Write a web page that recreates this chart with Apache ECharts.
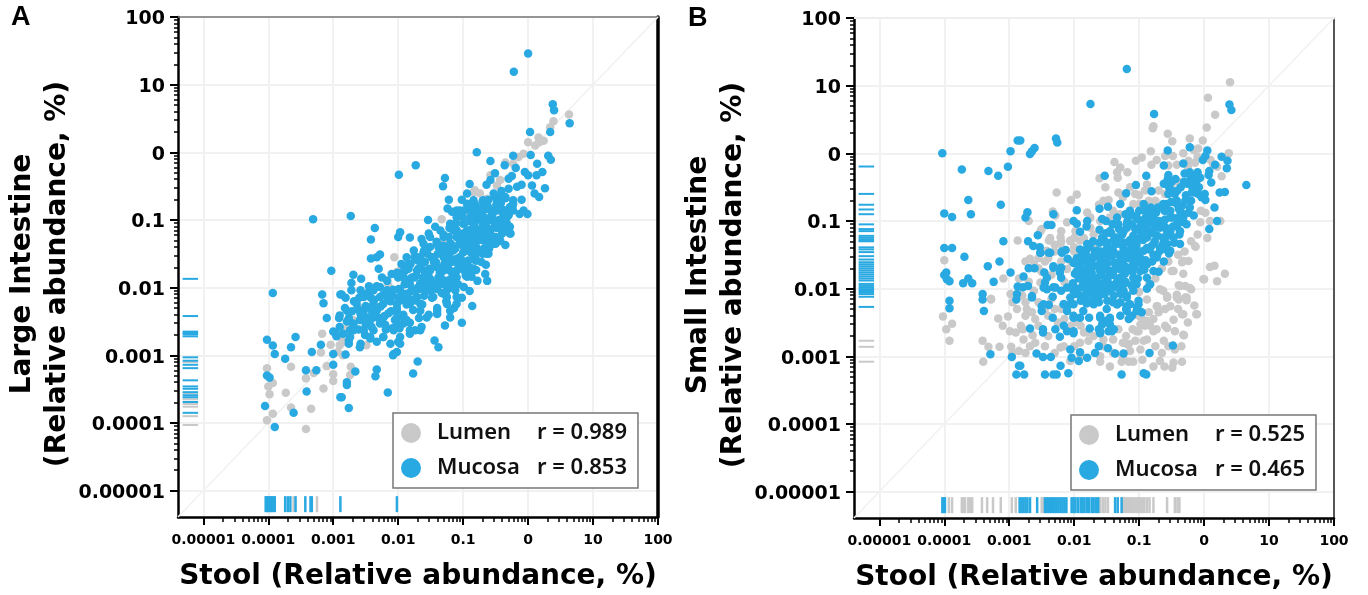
<!DOCTYPE html>
<html><head><meta charset="utf-8">
<script src="https://cdn.jsdelivr.net/npm/echarts@6/dist/echarts.min.js"></script>
<style>html,body{margin:0;padding:0;background:#fff}#c{width:1368px;height:595px}</style></head>
<body><div id="c"></div>
<script>
// All point arrays hold [log10(stool %), log10(site %)].
const tickValues=[0.00001,0.0001,0.001,0.01,0.1,1,10,100];
const tickLabels=['0.00001','0.0001','0.001','0.01','0.1','0','10','100'];
const axisMin=Math.pow(10,-5.39), axisMax=100;
const rugPos=-5.2;

const lumenA=[[.63,.56],[.39,.46],[.34,.37],[0,.15],[.16,.22],[.24,.17],[.17,.15],[.11,.1],[-.07,-.02],[-.15,-.07],[-.23,-.17],[-.35,-.15],[-.58,-.34],[-.43,-.41],[-.48,-.49],[-.82,-.56],[-.74,-.61],[-.64,-.69],[-.84,-.59],[-.92,-.91],[-.97,-1],[-1.02,-.98],[-1.33,-.99],[-1.3,-1.3],[-1.35,-1.43],[-2.06,-1.55],[-1.94,-1.7],[-2.02,-1.77],[-2.17,-1.89],[-2.15,-1.97],[-2.38,-2.19],[-2.69,-2.48],[-2.79,-2.61],[-2.89,-2.73],[-2.58,-2.31],[-2.73,-3.17],[-2.74,-3.29],[-2.49,-2.85],
[-4.02,-3.19],[-3.65,-3.17],[-3.93,-3.41],[-4,-3.46],[-3.98,-3.575],[-3.73,-3.555],[-3.93,-3.865],[-3.65,-3.77],[-4.02,-3.96],[-3.34,-3.79],[-3.42,-4.09],[-3.15,-3.49],[-3.42,-3.34],[-3.3,-3.26],[-3.1,-3.16],[-3,-3.28],[-3,-3.38],[-3.19,-2.96],[-3.04,-2.845],[-3.17,-2.68],[-2.9,-2.85],[-2.85,-3.0],[-2.93,-2.95],[-2.82,-2.8]];
const mucosaA=[[0,1.46],[-.22,1.19],[.38,.71],[.4,.62],[.64,.43],[.03,.3],[.34,.3],[-.79,0],[-.58,-.13],[-.23,-.05],[.04,-.04],[.31,-.05],[.35,-.11],[.14,-.17],[-.36,-.19],[-.19,-.23],[-1.73,-.19],[-1.99,-.33],[-1.28,-.38],[-1.31,-.5],[-.9,-.47],[-2.73,-.94],[-3.31,-.99],[-3.03,-1.75],[-3.93,-2.08],[-3.17,-2.1],[-2.89,-2.1],
[-2.36,-1.12],[-2.42,-1.29],[-1.97,-1.18],[-2,-1.25],[-1.82,-1.26],[-2.28,-1.51],[-2.33,-1.55],[-2.42,-1.57],[-2.3,-1.72],[-2.69,-1.81],[-2.57,-1.87],[-2.72,-1.93],[-2.72,-2.04],[-2.87,-2.1],[-1.54,-1],[-1.43,-1.1],[-1.53,-1.2],[-1.64,-1.28],[-1.22,-.7],[-1.24,-.83],[-1.17,-.88],[-1.05,-.86],[-1.02,-.7],[-.94,-.61],[-.64,-.48],[-.58,-.41],[-.51,-.31],[-.3,-.39],[-.25,-.35],[-.1,-.48],[-.17,-.51],[-.3,-.54],[-.41,-.57],[-.35,-.66],[-.48,-.71],[-.1,-.7],[-.23,-.71],[-.24,-.8],[-.07,-.86],[-.01,-.91],[-.13,-.91],[-.05,-.29],[0,-.34],[.13,-.34],[.22,-.29],[.06,-.49],[.26,-.53],[.1,-.61],[.17,-.66],[-.28,-.81],[-.3,-.93],[-.28,-1.1],[-.27,-1.2],[-.35,-1.37],[-.44,-1.31],[-.61,-1.5],[-.65,-1.66],[-.63,-1.9],[-.87,-1.84],[-.8,-1.74],[-.82,-1.55],
[-.86,-2.27],[-1.02,-2.52],[-1.28,-2.56],[-1.44,-2.78],[-1.38,-2.88],[-1.64,-2.58],[-1.7,-3.09],[-1.77,-3.27],[-2.33,-3.21],[-2.35,-3.31],[-2.16,-3.55],[-2.66,-3.24],[-2.79,-3.4],[-2.79,-3.44],[-2.87,-3.62],[-2.76,-3.78],[-2.02,-2.95],[-2.08,-3],[-2,-2.8],[-1.82,-2.68],[-1.74,-2.63],[-2.59,-2.88],[-2.81,-2.99],[-2.33,-2.8],[-2.43,-2.75],[-2.23,-2.73],[-2.07,-2.61],[-2.38,-2.63],[-2.69,-2.63],[-2.76,-2.78],
[-4.02,-2.77],[-3.93,-2.855],[-3.9,-2.98],[-3.74,-3.05],[-3.65,-2.88],[-3.58,-2.73],[-3.33,-2.95],[-3.19,-2.845],[-3,-2.65],[-2.97,-2.67],[-3,-2.98],[-3,-3.14],[-3.42,-3.22],[-3.26,-3.22],[-4.02,-3.3],[-3.98,-3.33],[-3.41,-3.535],[-4.05,-3.75],[-3.61,-3.85],[-3.9,-4.06],[-3.1,-2.45],[-3.15,-2.23],[-2.89,-3.62],[-2.9,-2.41],[-2.82,-2.3],[-2.76,-2.45],[-2.9,-2.58],[-2.95,-2.72],[-2.85,-2.68],
[-2.68,-2.2],[-2.62,-2.32],[-2.6,-2.15],[-2.55,-2.4],[-2.5,-2.27],[-2.47,-2.08],[-2.44,-2.5],[-2.4,-2.36],[-2.37,-2.18],[-2.33,-1.98],[-2.3,-2.45],[-2.27,-2.28],[-2.23,-2.1],[-2.2,-2.55],[-2.17,-1.9],[-2.15,-2.38],[-2.12,-2.2],[-2.08,-2.03],[-2.05,-2.48],[-2.02,-2.3],[-2,-1.85],[-1.98,-2.6],[-1.95,-2.12],[-1.92,-2.4],[-1.9,-1.95],[-1.87,-2.25],[-1.84,-1.72],[-1.82,-2.52],[-1.8,-2.05],[-1.77,-2.33],[-1.75,-1.85],[-1.72,-2.15],[-1.7,-1.6],[-1.68,-2.45],[-1.66,-1.95],[-1.63,-2.25],[-1.6,-1.75],[-1.58,-2.05],[-1.55,-1.5],[-1.53,-2.4],[-1.5,-1.88],[-1.48,-2.15],[-1.45,-1.62],[-1.43,-1.98],[-1.4,-2.3],[-1.38,-1.4],[-1.36,-1.78],[-1.33,-2.08],[-1.3,-1.55],[-1.28,-1.9],[-1.26,-2.2],[-1.24,-1.68],[-1.22,-1.25],[-1.2,-2],[-1.18,-1.45],[-1.16,-1.8],[-1.14,-2.3],[-1.12,-1.58],[-1.1,-1.15],[-1.08,-1.95],[-1.06,-1.35],[-1.04,-1.7],[-1.02,-2.15],[-1,-1.48],[-.98,-1.05],[-.96,-1.82],[-.94,-1.25],[-.92,-1.6],[-.9,-2.05],[-.88,-1.38],[-.86,-.95],[-.84,-1.72],[-.82,-1.18],[-.8,-1.5],[-.78,-1.9],[-.76,-1.3],[-.74,-.88],[-.72,-1.62],[-.7,-1.05],[-.68,-1.42],[-.66,-1.8],[-.64,-1.2],[-.62,-.8],[-.6,-1.32],[-.55,-.92],[-.52,-1.1],[-.5,-1.25],[-.48,-.85],[-.45,-1],[-.42,-.75],[-.4,-1.2],[-.38,-.92],[-.35,-.68],[-.33,-1.05],[-.7,-.72],[-.72,-1.2],[-.6,-1],[-.8,-1],[-1.3,-1.22],[-1.4,-1.7],[-1.6,-1.45],[-1.75,-1.55],[-1.95,-1.65],[-2.1,-1.8],[-2.25,-1.85],[-2.45,-1.98],[-1.25,-1.45],[-1.15,-1.6],[-1.05,-1.55],[-.95,-1.4],[-.9,-1.15],[-1.2,-1.75],[-1.35,-1.95],[-1.5,-2.05],[-1.7,-2.0],[-1.85,-2.15],[-2.0,-2.15],[-1.1,-1.75],[-1.0,-1.2],[-.85,-1.3],
[-2.01,-1.78],[-1.99,-2.02],[-1.91,-1.75],[-1.89,-1.88],[-1.9,-2.1],[-1.81,-1.65],[-1.79,-1.85],[-1.82,-1.95],[-1.78,-2.18],[-1.71,-1.55],[-1.69,-1.72],[-1.72,-1.82],[-1.68,-2.02],[-1.61,-1.48],[-1.59,-1.62],[-1.62,-1.85],[-1.58,-1.95],[-1.6,-2.12],[-1.51,-1.4],[-1.49,-1.55],[-1.52,-1.72],[-1.48,-1.98],[-1.41,-1.32],[-1.39,-1.5],[-1.42,-1.62],[-1.38,-1.85],[-1.4,-2.02],[-1.31,-1.38],[-1.29,-1.65],[-1.32,-1.75],[-1.28,-1.95],[-1.21,-1.12],[-1.19,-1.35],[-1.22,-1.52],[-1.18,-1.62],[-1.2,-1.88],[-1.11,-1.05],[-1.09,-1.25],[-1.12,-1.42],[-1.08,-1.65],[-1.1,-1.85],[-1.01,-.95],[-.99,-1.3],[-1.02,-1.6],[-.98,-1.75],[-1,-1.38],[-.91,-.85],[-.89,-1.02],[-.92,-1.28],[-.88,-1.48],[-.9,-1.7],[-.81,-.78],[-.79,-.9],[-.82,-1.1],[-.78,-1.22],[-.8,-1.4],[-.81,-1.6],[-.71,-.82],[-.69,-.95],[-.72,-1.15],[-.68,-1.3],[-.7,-1.5],[-.61,-.7],[-.59,-.85],[-.62,-1.12],[-.58,-1.22],[-.6,-1.42],[-.51,-.65],[-.49,-.78],[-.52,-1.02],[-.48,-1.12],[-.5,-1.35],[-.41,-.65],[-.39,-.85],[-.42,-1.02],[-.38,-1.1],
[-2.91,-2.45],[-2.79,-2.5],[-2.81,-2.15],[-2.71,-2.35],[-2.69,-2.55],[-2.59,-2.48],[-2.61,-2.62],[-2.5,-2.55],[-2.51,-2.7],[-2.41,-2.58],[-2.42,-2.15],[-2.21,-2.42],[-2.19,-2.62],[-2.11,-2.35],[-2.09,-2.6],[-2.1,-2.1],
[-.84,-.76],[-.64,-.76],[-.43,-.76],[-.23,-.76],[-.99,-.86],[-.84,-.86],[-.69,-.86],[-.48,-.86],[-.33,-.86],[-1.1,-.96],[-.89,-.96],[-.74,-.96],[-.58,-.96],[-.38,-.96],[-1.2,-1.055],[-1,-1.055],[-.84,-1.055],[-.69,-1.055],[-.48,-1.055],[-.33,-1.055],[-1.35,-1.155],[-1.15,-1.155],[-.94,-1.155],[-.74,-1.155],[-.58,-1.155],[-.38,-1.155],[-1.51,-1.25],[-1.3,-1.25],[-1.1,-1.25],[-.89,-1.25],[-.74,-1.25],[-.53,-1.25],[-1.61,-1.35],[-1.4,-1.35],[-1.2,-1.35],[-1,-1.35],[-.84,-1.35],[-.64,-1.35],[-1.76,-1.45],[-1.56,-1.45],[-1.35,-1.45],[-1.15,-1.45],[-.94,-1.45],[-.74,-1.45],[-1.87,-1.55],[-1.66,-1.55],[-1.46,-1.55],[-1.25,-1.55],[-1.05,-1.55],[-.84,-1.55],[-1.84,-1.65],[-1.64,-1.65],[-1.43,-1.65],[-1.23,-1.65],[-1,-1.65],[-1.89,-1.745],[-1.71,-1.745],[-1.51,-1.745],[-1.3,-1.745],[-1.1,-1.745],[-.92,-1.745],[-1.92,-1.84],[-1.74,-1.84],[-1.53,-1.84],[-1.35,-1.84],[-1.15,-1.84],[-.94,-1.84],[-1.87,-1.94],[-1.66,-1.94],[-1.4,-1.94],[-1.2,-1.94],[-1.1,-1.94],[-2.38,-2.04],[-2.17,-2.04],[-1.97,-2.04],[-1.76,-2.04],[-1.51,-2.04],[-1.25,-2.04],[-1.12,-2.04],[-2.53,-2.14],[-2.28,-2.14],[-2.12,-2.14],[-1.92,-2.14],[-1.71,-2.14],[-1.46,-2.14],[-1.25,-2.14],[-2.38,-2.24],[-2.23,-2.24],[-2.02,-2.24],[-1.82,-2.24],[-1.66,-2.24],[-1.25,-2.24],[-1.1,-2.24],[-2.53,-2.34],[-2.33,-2.34],[-2.02,-2.34],[-1.66,-2.34],[-1.4,-2.34],[-1.2,-2.34],[-2.48,-2.44],[-2.23,-2.44],[-1.92,-2.44],[-1.56,-2.44],[-1.2,-2.44],[-2.69,-2.53],[-2.28,-2.53],[-2.02,-2.53],[-1.92,-2.53],[-2.74,-2.63],[-2.53,-2.63],[-2.07,-2.63],[-1.82,-2.63],[-1.66,-2.63],[-2.74,-2.73],[-2.43,-2.73],[-2.23,-2.73],[-1.97,-2.73],[-2.76,-2.83],[-2.58,-2.83],[-2.12,-2.83],[-1.97,-2.83],[-2.07,-2.98],
[-2.58,-2.04],[-2.48,-2.09],[-2.28,-1.99],[-2.07,-2.04],[-2.64,-2.24],[-2.48,-2.29],[-2.17,-2.14],[-1.97,-2.19],[-1.87,-2.09],[-1.74,-2.19],[-1.58,-2.04],[-2.79,-2.34],[-2.58,-2.39],[-2.38,-2.44],[-2.02,-2.44],[-1.87,-2.48],[-1.4,-2.39],[-1.3,-2.09],[-1.1,-2.14],[-.99,-1.99],[-.87,-1.75],[-.79,-1.6],[-.64,-1.5],[-.53,-1.35],[-.43,-1.3],[-.28,-1.2],[-.33,-.96],[-.23,-.86],[-.69,-.71],[-.53,-.61],[-.84,-.71],[-.94,-.76],[-1.1,-.86]];

const lumenB=[[.4,1.05],[.06,.82],[.17,.57],[.04,.38],[-.78,.4],[-.79,.37],[-.56,.29],[-.49,.18],[-.22,.22],[-.02,.19],[-.82,.03],[-.96,-.06],[-1.05,-.11],[-1.38,-.13],[-1.29,-.21],[-1.34,-.28],[-1.33,-.36],[-1.18,-.28],[-1.61,-.37],[-1.52,-.5],[-.73,-.1],[-.81,-.17],[-.6,-.04],[-.48,-.04],[-.32,0],[-.16,.05],[-.09,.07],[.38,0],[-.42,-.17],[-.55,-.18],[-.24,-.11],[-.14,-.14],[.14,-.16],[.27,-.34],[-2.27,-.58],[-1.96,-.61],[-2.05,-.69],[-2.33,-.86],[-2.29,-.92],[-2.7,-1],[-2.5,-1.12],[.02,-.88],[-.06,-1.02],[.09,-1],[.25,-1],[-.13,-1.38],[-.24,-1.59],[-.34,-1.61],[-.5,-1.74],[-.32,-1.78],[.09,-1.68],[.16,-1.66],[.32,-1.78],[0,-1.86],[.2,-1.89],[-.39,-1.95],[-.29,-1.96],[-.2,-2.01],[-.68,-2.01],[-.57,-2.11],[-.42,-2.09],[-.29,-2.13],[-.88,-2.16],[-1.55,-.7],[-1.47,-.69],[-1.32,-.58],[-1.62,-.76],[-1.8,-.875],[-1.98,-1.15],[-2.21,-1.24],[-2.39,-1.29],[-2.21,-1.34],[-2.06,-1.29],[-1.7,-1.2],[-1.65,-1.34],[-2.68,-1.56],[-2.11,-1.02],[-1.09,-.75],[-.88,-.46],[-1.14,-.5],[-1.06,-.6],[-.91,-.55],[-2.62,-1.64],[-2.52,-1.91],[-2.62,-2.03],[-2.11,-1.71],[-1.91,-1.29],
[-.12,-2.38],[-.32,-2.38],[-.27,-2.17],[-.39,-2.16],[-.57,-2.13],[-.52,-2.26],[-.72,-2.26],[-.47,-2.46],[-.6,-2.55],[-.45,-2.63],[-.31,-2.69],[-.78,-2.45],[-.83,-2.55],[-.91,-2.55],[-1.01,-2.63],[-.73,-2.6],[-.62,-2.77],[-.75,-2.85],[-.88,-2.75],[-1.06,-2.77],[-1.16,-2.82],[-.98,-2.9],[-1.14,-2.92],[-.34,-3.08],[-.47,-3.09],[-.49,-3.17],[-.61,-3.15],[-.68,-3.07],[-.78,-3.15],[-1.09,-3.08],[-1.16,-3.08],[-1.27,-3.08],[-1.45,-3.15],[-1.6,-3.08],[-2.16,-2.85],[-2.21,-2.87],[-2.06,-3.07],[-1.8,-2.65],[-1.78,-2.77],[-1.91,-2.8],[-2.68,-2.85],[-2.78,-2.75],[-2.64,-2.69],[-2.79,-2.6],[-2.73,-2.3],[-2.75,-2.4],[-1.32,-2.6],
[-4.02,-2.41],[-3.88,-2.52],[-3.97,-2.6],[-3.92,-2.77],[-3.41,-2.77],[-3.32,-2.86],[-3.15,-2.86],[-3.4,-3.08],[-3.17,-2.44],[-3.02,-2.41],[-2.99,-2.63],[-2.97,-2.86],[-2.88,-2.3],[-3.28,-2.16],[-2.85,-2.92],[-4,-1.58],[-2.87,-1.29],[-3.09,-1.85],[-2.98,-2.08],[-3.28,-2.15],[-2.8,-2.1],[-2.82,-2.55],[-2.6,-2.45],[-2.55,-2.2],[-2.45,-2.3],[-2.35,-2.15],[-2.2,-2.3],[-2.25,-2.5],[-2.4,-2.7],[-2.0,-2.85],[-1.9,-2.55],[-2.75,-1.6],[-2.55,-1.55],[-2.85,-1.85],[-2.4,-1.55],[-2.3,-1.45],[-2.2,-1.15],[-2.0,-1.45],[-1.75,-.95],[-1.4,-.85],[-1.25,-.65],[-1.0,-.75],[-.75,-.7],[-.6,-.6],[-.7,-2.35],[-1.0,-2.4],[-1.2,-2.7],[-1.55,-2.85],
[-2.55,-1.7],[-2.45,-1.6],[-2.3,-1.35],[-2.2,-1.6],[-2.05,-1.6],[-2.0,-1.25],[-1.85,-1.25],[-1.75,-1.1],[-1.6,-1.0],[-1.45,-.95],[-1.3,-.9],[-1.15,-.85],[-1.0,-.62],[-.85,-.7],[-.7,-.55],[-.5,-.45],[-.4,-.42],[-.25,-.2],[-.1,-.05],[.1,-.1],[.2,-.2],[-.05,-.85],[.05,-1.25],[-.1,-1.2],[-.2,-1.3],[-.3,-1.45],[-.4,-1.5],[-.55,-1.6],[-.65,-1.7],[-.75,-1.85],[-.85,-1.95],[-1,-2.05],[-2.75,-2.2],[-2.65,-2.35],[-2.55,-2.55],[-2.4,-2.4],[-2.3,-2.3],[-2.15,-2.45],[-2.05,-2.55],[-1.95,-2.5],[-1.85,-2.65],[-1.7,-2.7],[-1.55,-2.75],[-1.4,-2.75],[-1.25,-2.8],[-1.1,-2.6],[-.95,-2.45],[-.85,-2.35],[-.6,-2.3],[-.4,-2.3],[-.25,-2.5],[-.15,-2.25],[-.55,-2.85],[-.45,-2.9],[-.65,-2.95],[-.35,-2.85],[-.95,-3.05],[-1.25,-3.0],[-1.4,-2.95],[-2.95,-2.2],[-2.7,-1.9],[-2.5,-1.75],[-2.35,-1.8],[-2.15,-1.9],[-3.1,-2.55],[-2.9,-2.65],[-2.95,-2.95],[-2.75,-2.95],[-2.6,-2.8],[-2.45,-2.85],[-2.3,-2.95],[-1.6,-3.0],[-1.9,-3.0],
[-2.2,-1.3],[-2.06,-1.3],[-2,-1.39],[-2.37,-1.25],[-2.52,-1.15],[-2.42,-1.44],[-.63,-2.03],[-.42,-2.13],[-.27,-2.13],[-.57,-2.13],[-.73,-2.26],[-.98,-2.53],[-.88,-2.48],[-1.04,-2.63],[-.78,-2.63],[-1.19,-2.82],[-.93,-2.77],[-.57,-2.58],[-.32,-2.68],[-.11,-2.38],[-.34,-2.38],[-.01,-1.86],[-.14,-1.37],[-.32,-1.59],[-.47,-1.74],[-.22,-1.99],[-.37,-1.96]];
const mucosaB=[[-4.03,0],[-3.73,-.24],[-3.32,-.26],[-3.17,-.33],[-3.02,-.2],[-2.98,.03],[-2.87,.19],[-3.63,-.69],[-3.13,-.76],[-4,-.89],[-3.88,-.94],[-3.59,-.9],[-3.09,-1.3],[-4,-1.4],[-3.88,-1.4],[-3.69,-1.53],[-3.15,-1.6],[-3.33,-1.67],[-2.98,-1.76],[-3.97,-1.76],[-4,-1.8],[-3.96,-1.86],[-3.92,-1.89],[-3.63,-1.85],[-3.71,-1.92],[-3.57,-1.92],[-3.24,-1.9],[-3.41,-2.08],[-3.92,-2.18],[-2.87,-1.97],[-2.88,-2.08],[-3.92,-2.29],[-3.41,-2.16],[-3.39,-2.33],[-3.29,-2.97],[-2.96,-3.01],[-2.85,-3.14],[-2.89,-3.27],[-2.89,-2.16],
[-1.19,1.245],[-1.75,.73],[-.77,.58],[.39,.72],[.42,.64],[-2.28,.22],[-2.26,.16],[-2.61,.08],[-2.65,.03],[-2.68,-.01],[-2.83,.19],[-.56,.04],[-.22,.09],[.05,.04],[.02,-.04],[-.02,-.1],[.27,-.05],[.36,-.11],[.35,-.22],[.17,-.17],[-.32,-.15],[-.62,-.18],[-.89,-.33],[-1.53,-.33],[-1.05,-.47],[-1.2,-.59],[-1.29,-.75],[-.81,-.56],[.08,-.26],[.07,-.32],[.11,-.43],[.65,-.47],[.32,-.57],[.24,-.58],[.01,-.6],[.02,-.69],[.16,-.8],[.2,-1],[.08,-1.12],[-.16,-.92],[-1.96,-.84],[-1.61,-.82],[-1.48,-.79],[-2.72,-.87],[-2.75,-.95],[-2.32,-.9],[-2.01,-1],[-1.96,-1.04],[-1.8,-1],[-1.81,-1.08],[-1.57,-.97],[-1.51,-1],[-2.41,-1.06],[-2.35,-1.06],[-1.91,-1.16],[-1.61,-1.13],[-2.56,-1.21],[-2.71,-1.3],[-2.63,-1.37],[-2.53,-1.39],[-2.52,-1.47],[-2.39,-1.47],[-2.19,-1.45],[-2.13,-1.43],[-2.1,-1.56],[-2.7,-1.7],[-2.61,-1.7],[-2.32,-1.67],[-2.22,-1.7],[-2.22,-1.76],[-2.46,-1.76],[-2.78,-1.82],[-2.71,-1.96],[-2.79,-1.98],[-2.45,-1.91],[-2.42,-2.01],[-2.32,-1.98],[-2.2,-2.03],[-2.65,-2.11],[-2.33,-2.12],
[-.48,-2.84],[-.84,-2.95],[-1.24,-2.96],[-1.37,-2.96],[-1.48,-2.88],[-1.62,-2.85],[-1.68,-2.95],[-1.8,-3.02],[-1.91,-2.94],[-1.93,-3.07],[-2.04,-3.02],[-2.21,-3.14],[-2.09,-3.25],[-2.32,-3.27],[-2.27,-3.27],[-2.45,-3.27],[-2.36,-3.01],[-2.48,-3.01],[-2.58,-2.96],[-2.77,-3.27],[-2.83,-3.14],[-1.27,-3.27],[-.93,-3.25],[-.89,-3.27],[-2.06,-2.9],[-2.22,-2.71],[-2.29,-2.6],[-2.16,-2.55],[-2.11,-2.63],[-2.01,-2.66],[-2.48,-2.6],[-2.48,-2.65],[-2.68,-2.59],[-2.33,-2.43],[-2.5,-2.26],[-2.5,-2.33],[-2.39,-2.24],[-2.65,-2.13],[-1.77,-2.43],[-1.76,-2.59],[-1.62,-2.6],[-1.6,-2.66],[-1.47,-2.63],[-1.39,-2.6],[-1.6,-2.4],[-1.52,-2.48],[-1.45,-2.45],[-1.29,-2.4],[-1.16,-2.45],[-1.11,-2.4],[-.96,-2.35],[-1.03,-2.28],[-1.01,-2.18],[-1.34,-2.23],[-1.19,-2.26],[-2.16,-2.23],[-2.06,-2.23],[-2.01,-2.4],[-1.86,-2.33],[-1.65,-2.18],[-1.73,-2.18],
[-1.96,-1.55],[-1.92,-1.7],[-1.93,-1.85],[-1.95,-2],[-1.9,-2.1],[-1.88,-1.6],[-1.86,-1.78],[-1.85,-1.92],[-1.84,-2.15],[-1.82,-1.5],[-1.8,-1.68],[-1.79,-1.85],[-1.78,-2.02],[-1.76,-1.38],[-1.74,-1.58],[-1.73,-1.76],[-1.72,-1.94],[-1.7,-2.08],[-1.68,-1.45],[-1.66,-1.66],[-1.65,-1.84],[-1.63,-2],[-1.62,-2.2],[-1.6,-1.55],[-1.58,-1.74],[-1.56,-1.92],[-1.55,-1.25],[-1.53,-2.08],[-1.5,-1.42],[-1.49,-1.62],[-1.47,-1.82],[-1.45,-2],[-1.43,-1.18],[-1.42,-1.52],[-1.4,-2.2],[-1.38,-1.72],[-1.36,-1.34],[-1.34,-1.9],[-1.32,-1.05],[-1.3,-1.6],[-1.28,-2.08],[-1.26,-1.2],[-1.24,-1.42],[-1.22,-1.78],[-1.2,-2.3],[-1.18,-1],[-1.16,-1.55],[-1.14,-1.28],[-1.12,-1.95],[-1.1,-.92],[-1.08,-1.68],[-1.06,-1.12],[-1.04,-1.4],[-1.02,-1.85],[-1,-.85],[-.98,-1.55],[-.96,-1.02],[-.94,-1.28],[-.92,-1.72],[-.9,-.95],[-.88,-2],[-.86,-1.15],[-.84,-1.42],[-.82,-.8],[-.8,-1.6],[-.78,-1.05],[-.76,-1.3],[-.74,-.88],[-.72,-1.5],[-.7,-1.75],[-.68,-1.1],[-.66,-.8],[-.64,-1.35],[-.62,-1.6],[-.6,-.98],[-.58,-.75],[-.56,-1.22],[-.54,-1.48],[-.52,-.85],[-.5,-.55],[-.48,-1.08],[-.46,-1.32],[-.44,-.38],[-.42,-.7],[-.4,-.95],[-.38,-1.2],[-.36,-.5],[-.34,-.78],[-.32,-1.02],[-.3,-.3],[-.28,-.62],[-.26,-.45],[-.24,-.88],[-.22,-.28],[-.2,-.7],[-.18,-.5],[-.16,-.35],[-.14,-.58],[-.12,-.42],[-.1,-.28],[-.08,-.5],[-.06,-.36],[-.04,-.65],[-.55,-.32],[-.5,-.42],[-.62,-.45],[-.55,-.6],[-.45,-.6],[-1.25,-1.6],[-1.1,-1.5],[-1.45,-1.4],[-1.0,-1.1],[-.85,-1.0],
[-2.01,-1.62],[-1.99,-1.78],[-2.02,-1.92],[-1.98,-2.08],[-1.91,-1.42],[-1.89,-1.52],[-1.92,-1.75],[-1.88,-1.98],[-1.9,-2.18],[-1.81,-1.42],[-1.79,-1.58],[-1.82,-1.75],[-1.78,-1.9],[-1.8,-2.08],[-1.81,-2.22],[-1.71,-1.3],[-1.69,-1.5],[-1.72,-1.68],[-1.68,-1.85],[-1.7,-2.02],[-1.71,-2.22],[-1.61,-1.32],[-1.59,-1.45],[-1.62,-1.65],[-1.58,-1.8],[-1.6,-1.95],[-1.61,-2.1],[-1.51,-1.18],[-1.49,-1.32],[-1.52,-1.52],[-1.48,-1.72],[-1.5,-1.9],[-1.51,-2.02],[-1.49,-2.18],[-1.5,-2.3],[-1.41,-1.05],[-1.39,-1.28],[-1.42,-1.42],[-1.38,-1.62],[-1.4,-1.8],[-1.41,-1.98],[-1.39,-2.1],[-1.31,-1.12],[-1.29,-1.3],[-1.32,-1.5],[-1.28,-1.72],[-1.3,-1.85],[-1.31,-2],[-1.29,-2.2],[-1.21,-.9],[-1.19,-1.1],[-1.22,-1.32],[-1.18,-1.48],[-1.2,-1.68],[-1.21,-1.9],[-1.19,-2.1],[-1.11,-1.05],[-1.09,-1.22],[-1.12,-1.38],[-1.08,-1.6],[-1.1,-1.75],[-1.01,-.98],[-.99,-1.25],[-1.02,-1.48],[-.98,-1.62],[-.91,-.85],[-.89,-1.1],[-.92,-1.22],[-.88,-1.4],[-.9,-1.58],[-.81,-.92],[-.79,-1.18],[-.82,-1.38],[-.78,-1.5],[-.71,-.8],[-.69,-1],[-.72,-1.22],[-.68,-1.4],[-.61,-.85],[-.59,-1.1],[-.62,-1.28],[-.58,-1.42],[-.51,-.72],[-.49,-.95],[-.52,-1.15],[-.41,-.55],[-.39,-.82],[-.42,-1.08],[-.31,-.42],[-.29,-.7],[-.32,-.9],[-.21,-.38],[-.19,-.58],[-.22,-.8],[-.56,-.38],[-.54,-.5],[-.11,-.38],[-.09,-.6],
[-.93,-.75],[-.63,-.75],[-.42,-.75],[-1.14,-.85],[-.83,-.85],[-.57,-.85],[-.37,-.85],[-1.34,-.95],[-1.04,-.95],[-.78,-.95],[-.52,-.95],[-.32,-.95],[-1.4,-1.05],[-1.19,-1.05],[-.93,-1.05],[-.63,-1.05],[-.42,-1.05],[-.27,-1.05],[-1.45,-1.15],[-1.24,-1.15],[-.98,-1.15],[-.78,-1.15],[-.57,-1.15],[-.37,-1.15],[-1.57,-1.245],[-1.34,-1.245],[-1.09,-1.245],[-.88,-1.245],[-.63,-1.245],[-.47,-1.245],[-1.8,-1.34],[-1.5,-1.34],[-1.29,-1.34],[-1.04,-1.34],[-.78,-1.34],[-.57,-1.34],[-.37,-1.34],[-1.83,-1.44],[-1.65,-1.44],[-1.4,-1.44],[-1.14,-1.44],[-.93,-1.44],[-.68,-1.44],[-.52,-1.44],[-1.91,-1.54],[-1.7,-1.54],[-1.5,-1.54],[-1.24,-1.54],[-1.04,-1.54],[-.73,-1.54],[-1.93,-1.64],[-1.75,-1.64],[-1.55,-1.64],[-1.29,-1.64],[-1.09,-1.64],[-.88,-1.64],[-1.96,-1.74],[-1.8,-1.74],[-1.6,-1.74],[-1.4,-1.74],[-1.19,-1.74],[-.98,-1.74],[-.78,-1.74],[-1.88,-1.84],[-1.7,-1.84],[-1.5,-1.84],[-1.29,-1.84],[-1.09,-1.84],[-.88,-1.84],[-1.86,-1.935],[-1.65,-1.935],[-1.45,-1.935],[-1.24,-1.935],[-1.04,-1.935],[-.83,-1.935],[-2.01,-2.03],[-1.8,-2.03],[-1.45,-2.03],[-1.24,-2.03],[-1.09,-2.03],[-2.06,-2.13],[-1.68,-2.13],[-1.19,-2.13],[-2.47,-2.23],[-2.16,-2.23],[-2.01,-2.23],[-1.7,-2.23],[-1.34,-2.23],[-1.14,-2.23],[-1.01,-2.23],[-1.04,-2.33],[-1.19,-2.33],[-2.11,-2.33],[-2.01,-2.43],[-1.91,-2.43],[-1.6,-2.43],[-1.45,-2.43],[-1.14,-2.43],[-1.57,-2.53],[-1.45,-2.53],[-2.01,-2.63],[-1.6,-2.63],[-1.42,-2.63],[-2.47,-1.985],[-2.29,-1.985],[-2.11,-1.985],[-2.42,-1.84],[-2.2,-1.84],[-2.32,-1.69],[-2.2,-1.69],[-2.52,-1.47],[-2.37,-1.47],[-2.19,-1.47]];

const rugA_mucosaY=[-1.87,-2.42,-2.65,-2.67,-2.69,-2.72,-3.03,-3.08,-3.14,-3.19,-3.37,-3.46,-3.495,-3.545,-3.59,-3.62,-3.69,-3.85];
const rugA_lumenY=[-3.1,-3.56,-3.76,-3.9,-4.03,-3.65,-3.72];
const rugA_mucosaX=[-4.04,-4.02,-4,-3.98,-3.96,-3.94,-3.92,-3.9,-3.74,-3.7,-3.66,-3.58,-3.43,-3.35,-3.33,-2.89,-2.02];
const rugA_lumenX=[-4.03,-3.61,-3.25];
const rugB_mucosaY=[-.195,-.6,-.76,-.83,-.9,-1.05,-1.12,-1.15,-1.22,-1.25,-1.28,-1.3,-1.39,-1.42,-1.46,-1.52,-1.57,-1.61,-1.64,-1.67,-1.7,-1.73,-1.76,-1.79,-1.82,-1.85,-1.88,-1.93,-1.96,-1.99,-2.02,-2.05,-2.08,-2.12,-2.27];
const rugB_lumenY=[-2.77,-2.86,-3.08];
const rugB_mucosaX=[-4.03,-4.01,-3.99,-2.84,-2.81,-2.78,-2.75,-2.72,-2.68,-2.57,-2.45,-2.42,-2.39,-2.36,-2.33,-2.3,-2.27,-2.24,-2.21,-2.18,-2.15,-2.12,-2.04,-2.01,-1.98,-1.94,-1.9,-1.87,-1.84,-1.8,-1.77,-1.73,-1.7,-1.66,-1.63,-1.37,-1.33,-1.27];
const rugB_lumenX=[-3.93,-3.88,-3.73,-3.71,-3.68,-3.63,-3.6,-3.57,-3.42,-3.34,-3.25,-3.13,-2.96,-2.9,-2.5,-2.47,-1.6,-1.56,-1.52,-1.48,-1.25,-1.22,-1.19,-1.16,-1.13,-1.1,-1.07,-1.04,-1.01,-.98,-.95,-.92,-.88,-.84,-.78,-.57,-.45,-.41,-.38];

const BLUE='#29A9E1', GRAY='#C9C9C9', FONT='"DejaVu Sans"';
const minorTicks=[];
[-5,-4,-3,-2,-1,0,1].forEach(e=>[2,3,4,5,6,7,8,9].forEach(m=>minorTicks.push(m*Math.pow(10,e))));
const p=a=>a.map(d=>[Math.pow(10,d[0]),Math.pow(10,d[1])]);
const baseAxis={type:'log',logBase:10,min:axisMin,max:axisMax};
const lab=v=>{const i=tickValues.findIndex(t=>Math.abs(t/v-1)<1e-6);return i<0?'':tickLabels[i];};
const labY=v=>'{a|'+lab(v)+'}';

function axesFor(dim,grid,name,edge,edgeW,nameGap,fontSize,tickFs,labelMargin,pad){
  const isX=dim==='x';
  const labelFont={fontFamily:FONT,fontWeight:'bold',fontSize:tickFs,color:'#000'};
  const main=Object.assign({},baseAxis,{gridIndex:grid,position:isX?'bottom':'left',name:name,nameLocation:'middle',nameGap:nameGap,
    nameTextStyle:{fontFamily:FONT,fontWeight:'bold',fontSize:fontSize,color:'#000',lineHeight:34.5,padding:pad},
    axisLine:{show:true,onZero:false,lineStyle:{color:'#000',width:2.5}},
    axisTick:{show:true,customValues:tickValues,length:8,lineStyle:{color:'#000',width:2}},
    axisLabel:Object.assign({show:true,customValues:tickValues,formatter:isX?lab:labY,margin:labelMargin},labelFont,isX?{}:{rich:{a:Object.assign({padding:[5,0,0,0]},labelFont)}}),
    splitLine:{show:true,lineStyle:{color:'#F1F1F1',width:2}},minorTick:{show:false},minorSplitLine:{show:false}});
  const minor=Object.assign({},baseAxis,{gridIndex:grid,position:isX?'bottom':'left',
    axisLine:{show:true,onZero:false,lineStyle:{color:'rgba(0,0,0,0)',width:1}},axisTick:{show:true,customValues:minorTicks,length:isX?5:4,lineStyle:{color:'#000',width:1.5}},
    axisLabel:{show:true,customValues:[],formatter:()=>''},splitLine:{show:false}});
  const far=Object.assign({},baseAxis,{gridIndex:grid,position:isX?'top':'right',
    axisLine:{show:true,onZero:false,lineStyle:edge?{color:edge,width:edgeW}:{width:0}},axisTick:{show:false},axisLabel:{show:false},splitLine:{show:false}});
  return [main,minor,far];
}
const xAxis=[...axesFor('x',0,'Stool (Relative abundance, %)','#777',1.5,42,28,14,16),...axesFor('x',1,'Stool (Relative abundance, %)','#EEE',2,42,28,14,16)];
const yAxis=[...axesFor('y',0,'Large Intestine\n(Relative abundance, %)','#000',3.5,103,28,19,13,[0,14,0,0]),...axesFor('y',1,'Small Intestine\n(Relative abundance, %)','#222',1.5,102,28,19,13,[0,14,0,0])];

function panel(g,lumen,mucosa,rL_y,rM_y,rL_x,rM_x,size){
  const i=g*3, base={type:'scatter',xAxisIndex:i,yAxisIndex:i,silent:true,animation:false};
  const rx=Math.pow(10,rugPos);
  return [
   {type:'line',xAxisIndex:i,yAxisIndex:i,silent:true,animation:false,symbol:'none',data:[[axisMin,axisMin],[axisMax,axisMax]],lineStyle:{color:'#F1F1F1',width:1.5},z:1},
   Object.assign({},base,{name:'Lumen',data:p(lumen),symbol:'circle',symbolSize:size,itemStyle:{color:GRAY,opacity:1},z:3}),
   Object.assign({},base,{name:'Mucosa',data:p(mucosa),symbol:'circle',symbolSize:size,itemStyle:{color:BLUE,opacity:1},z:4}),
   Object.assign({},base,{name:'Lumen',data:rL_y.map(v=>[rx,Math.pow(10,v)]),symbol:'rect',symbolSize:[15.5,2],itemStyle:{color:GRAY,opacity:1},z:3}),
   Object.assign({},base,{name:'Mucosa',data:rM_y.map(v=>[rx,Math.pow(10,v)]),symbol:'rect',symbolSize:[15.5,2],itemStyle:{color:BLUE,opacity:1},z:4}),
   Object.assign({},base,{name:'Lumen',data:rL_x.map(v=>[Math.pow(10,v),rx]),symbol:'rect',symbolSize:[2.5,16],itemStyle:{color:GRAY,opacity:1},z:3}),
   Object.assign({},base,{name:'Mucosa',data:rM_x.map(v=>[Math.pow(10,v),rx]),symbol:'rect',symbolSize:[2.5,16],itemStyle:{color:BLUE,opacity:1},z:4})
  ];
}
const legendFor=(left,top,rs)=>({left:left,top:top,orient:'vertical',data:['Lumen','Mucosa'],icon:'circle',itemWidth:20,itemHeight:20,itemGap:13,selectedMode:false,
  backgroundColor:'#fff',borderColor:'#777',borderWidth:1.5,borderRadius:0,padding:[9,11,9,8],
  formatter:n=>'{n|'+n+'}{r|'+rs[n]+'}',
  textStyle:{rich:{n:{fontFamily:'"Noto Sans"',fontWeight:600,fontSize:22,color:'#111',width:100,padding:[0,0,0,11]},r:{fontFamily:'"Noto Sans"',fontWeight:600,fontSize:22,color:'#111'}}}});

const chart=echarts.init(document.getElementById('c'),null,{renderer:'canvas'});
chart.setOption({animation:false,backgroundColor:'#fff',
 grid:[{left:178,top:17,width:480,height:500,outerBoundsMode:'none'},{left:854,top:18,width:480,height:500,outerBoundsMode:'none'}],
 title:[{text:'A',left:11,top:4,padding:0,textStyle:{fontFamily:'"Liberation Sans"',fontWeight:'bold',fontSize:27,color:'#000'}},
        {text:'B',left:688,top:5,padding:0,textStyle:{fontFamily:'"Liberation Sans"',fontWeight:'bold',fontSize:27,color:'#000'}}],
 xAxis:xAxis,yAxis:yAxis,
 legend:[legendFor(393,413,{Lumen:'r = 0.989',Mucosa:'r = 0.853'}),legendFor(1071,415,{Lumen:'r = 0.525',Mucosa:'r = 0.465'})],
 series:[...panel(0,lumenA,mucosaA,rugA_lumenY,rugA_mucosaY,rugA_lumenX,rugA_mucosaX,8.5),
         ...panel(1,lumenB,mucosaB,rugB_lumenY,rugB_mucosaY,rugB_lumenX,rugB_mucosaX,8.5)]
});
</script></body></html>
